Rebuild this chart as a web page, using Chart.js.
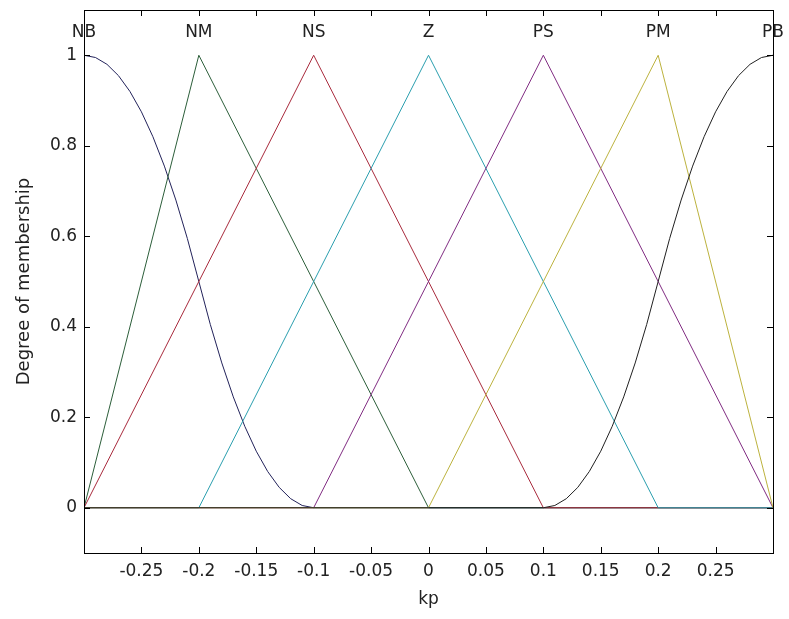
<!DOCTYPE html>
<html>
<head>
<meta charset="utf-8">
<script src="https://cdn.jsdelivr.net/npm/chart.js@4/dist/chart.umd.min.js"></script>
<style>
  html, body { margin: 0; padding: 0; background: #fff; }
  #wrap { width: 789px; height: 619px; }
</style>
</head>
<body>
<div id="wrap"><canvas id="chart" width="789" height="619"></canvas></div>
<script>
// membership function names and where their peaks sit
const mfNames = ["NB", "NM", "NS", "Z", "PS", "PM", "PB"];
const mfPeaks = [-0.3, -0.2, -0.1, 0, 0.1, 0.2, 0.3];
const mfColors = ["#22225a", "#2c5e3a", "#a82a3c", "#2a9eae", "#802c82", "#bcb23e", "#202020"];

// curves
const nbX = [-0.3, -0.29, -0.28, -0.27, -0.26, -0.25, -0.24, -0.23, -0.22, -0.21, -0.2,
  -0.19, -0.18, -0.17, -0.16, -0.15, -0.14, -0.13, -0.12, -0.11, -0.1, 0.3];
const nbY = [1, 0.995, 0.98, 0.955, 0.92, 0.875, 0.82, 0.755, 0.68, 0.595, 0.5,
  0.405, 0.32, 0.245, 0.18, 0.125, 0.08, 0.045, 0.02, 0.005, 0, 0];
const nmX = [-0.3, -0.2, 0, 0.3];
const nmY = [0, 1, 0, 0];
const nsX = [-0.3, -0.1, 0.1, 0.3];
const nsY = [0, 1, 0, 0];
const zX = [-0.3, -0.2, 0, 0.2, 0.3];
const zY = [0, 0, 1, 0, 0];
const psX = [-0.3, -0.1, 0.1, 0.3];
const psY = [0, 0, 1, 0];
const pmX = [-0.3, 0, 0.2, 0.3];
const pmY = [0, 0, 1, 0];
const pbX = [-0.3, 0.1, 0.11, 0.12, 0.13, 0.14, 0.15, 0.16, 0.17, 0.18, 0.19, 0.2,
  0.21, 0.22, 0.23, 0.24, 0.25, 0.26, 0.27, 0.28, 0.29, 0.3];
const pbY = [0, 0, 0.005, 0.02, 0.045, 0.08, 0.125, 0.18, 0.245, 0.32, 0.405, 0.5,
  0.595, 0.68, 0.755, 0.82, 0.875, 0.92, 0.955, 0.98, 0.995, 1];

const xTickVals = [-0.25, -0.2, -0.15, -0.1, -0.05, 0, 0.05, 0.1, 0.15, 0.2, 0.25];
const yTickVals = [0, 0.2, 0.4, 0.6, 0.8, 1];

const FONT = "'DejaVu Sans', sans-serif";

const curves = [[nbX, nbY], [nmX, nmY], [nsX, nsY], [zX, zY], [psX, psY], [pmX, pmY], [pbX, pbY]];

// later curves are drawn on top, like the original plot
let datasets = curves.map((c, i) => ({
  label: mfNames[i],
  data: c[0].map((x, k) => ({ x: x, y: c[1][k] })),
  borderColor: mfColors[i],
  borderWidth: 1,
  showLine: true,
  pointRadius: 0,
  tension: 0,
  order: curves.length - i
}));

// box, inward ticks on all four sides, and the MF names above the peaks
const matlabAxes = {
  id: "matlabAxes",
  afterDatasetsDraw(chart) {
    const ctx = chart.ctx;
    const a = chart.chartArea;
    const xs = chart.scales.x, ys = chart.scales.y;
    ctx.save();
    ctx.strokeStyle = "#000";
    ctx.lineWidth = 1;
    ctx.strokeRect(Math.round(a.left) + 0.5, Math.round(a.top) + 0.5,
      Math.round(a.right - a.left), Math.round(a.bottom - a.top));
    ctx.beginPath();
    xTickVals.forEach(v => {
      const px = Math.round(xs.getPixelForValue(v)) + 0.5;
      ctx.moveTo(px, a.bottom); ctx.lineTo(px, a.bottom - 6);
      ctx.moveTo(px, a.top); ctx.lineTo(px, a.top + 6);
    });
    yTickVals.forEach(v => {
      const py = Math.round(ys.getPixelForValue(v)) + 0.5;
      ctx.moveTo(a.left, py); ctx.lineTo(a.left + 6, py);
      ctx.moveTo(a.right, py); ctx.lineTo(a.right - 6, py);
    });
    ctx.stroke();

    ctx.fillStyle = "#222";
    ctx.font = "17px " + FONT;
    ctx.textAlign = "center";
    ctx.textBaseline = "middle";
    mfNames.forEach((n, i) => {
      ctx.fillText(n, xs.getPixelForValue(mfPeaks[i]), ys.getPixelForValue(1.05));
    });
    ctx.restore();
  }
};

new Chart(document.getElementById("chart"), {
  type: "scatter",
  data: { datasets: datasets },
  options: {
    responsive: false,
    animation: false,
    layout: { padding: { top: 10, right: 16, left: 0, bottom: 0 } },
    plugins: {
      legend: { display: false },
      tooltip: { enabled: false }
    },
    scales: {
      x: {
        type: "linear",
        min: -0.3,
        max: 0.3,
        grid: { display: false, drawTicks: false },
        border: { display: false },
        afterBuildTicks: s => { s.ticks = xTickVals.map(v => ({ value: v })); },
        afterFit: s => { s.height = 66; s.paddingLeft = 0; s.paddingRight = 0; },
        ticks: {
          color: "#222",
          font: { family: FONT, size: 17 },
          padding: 8,
          maxRotation: 0,
          autoSkip: false,
          callback: v => String(v)
        },
        title: {
          display: true,
          text: "kp",
          color: "#222",
          font: { family: FONT, size: 17 },
          padding: { top: 0, bottom: 9 }
        }
      },
      y: {
        type: "linear",
        min: -0.1,
        max: 1.1,
        grid: { display: false, drawTicks: false },
        border: { display: false },
        afterBuildTicks: s => { s.ticks = yTickVals.map(v => ({ value: v })); },
        afterFit: s => { s.width = 84; s.paddingTop = 0; s.paddingBottom = 0; },
        ticks: {
          color: "#222",
          font: { family: FONT, size: 17 },
          padding: 7,
          autoSkip: false,
          callback: v => String(v)
        },
        title: {
          display: true,
          text: "Degree of membership",
          color: "#222",
          font: { family: FONT, size: 18 },
          padding: { top: 14, bottom: 0 }
        }
      }
    }
  },
  plugins: [matlabAxes]
});
</script>
</body>
</html>
